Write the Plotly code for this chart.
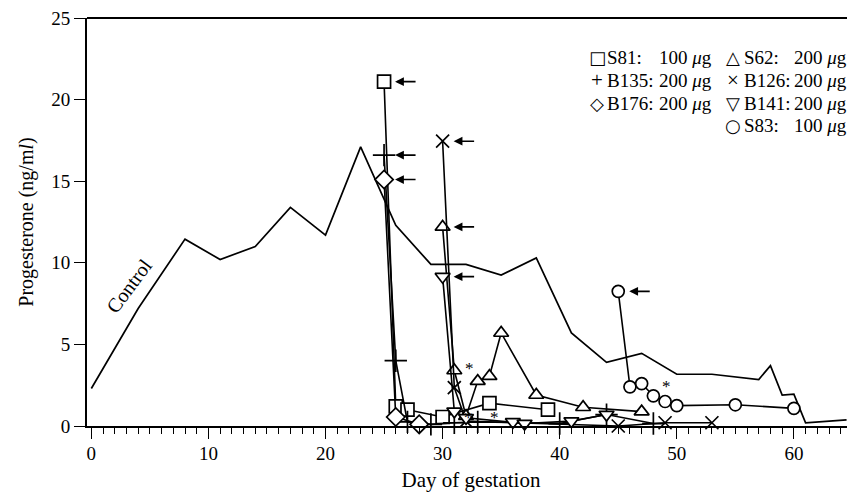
import plotly.graph_objects as go

# ---------------- data ----------------
control_days = [0, 4, 8, 11, 14, 17, 20, 23, 26, 29, 32, 35, 38, 41, 44, 47, 50, 53, 57, 58, 59, 60, 61, 64.5]
control_vals = [2.3, 7.2, 11.45, 10.2, 11.0, 13.4, 11.7, 17.1, 12.3, 9.9, 9.9, 9.25, 10.3, 5.7, 3.9, 4.45, 3.17, 3.17, 2.85, 3.7, 1.9, 1.95, 0.2, 0.37]

s81_days = [25, 26, 27, 30, 34, 39]
s81_vals = [21.1, 1.2, 1.0, 0.55, 1.4, 1.0]

b135_days = [25, 26, 27, 29, 31, 33, 40, 44, 48]
b135_vals = [16.6, 4.0, 0.25, 0.1, 0.2, 0.25, 0.15, 0.7, 0.15]

b176_days = [25, 26, 28]
b176_vals = [15.1, 0.55, 0.1]

s62_days = [30, 31, 32, 33, 34, 35, 38, 42, 47]
s62_vals = [12.2, 3.4, 0.6, 2.75, 3.05, 5.7, 1.9, 1.15, 0.88]

b126_days = [30, 31, 32, 45, 49, 53]
b126_vals = [17.45, 2.35, 0.3, 0.0, 0.2, 0.2]

b141_days = [30, 31, 32, 36, 37, 41, 44]
b141_vals = [9.15, 0.9, 0.5, 0.25, 0.15, 0.3, 0.7]

s83_days = [45, 46, 47, 48, 49, 50, 55, 60]
s83_vals = [8.25, 2.4, 2.6, 1.85, 1.5, 1.25, 1.3, 1.08]

star_days = [32.3, 32.2, 34.4, 49.1]
star_vals = [3.5, 0.5, 0.5, 2.4]

legend_symbols = [["\u25a1", "\u25b3"], ["+", "\u00d7"], ["\u25c7", "\u25bd"], ["", "\u25cb"]]
legend_names = [["S81:", "S62:"], ["B135:", "B126:"], ["B176:", "B141:"], ["", "S83:"]]
legend_doses = [["100 <i>\u03bc</i>g", "200 <i>\u03bc</i>g"],
                ["200 <i>\u03bc</i>g", "200 <i>\u03bc</i>g"],
                ["200 <i>\u03bc</i>g", "200 <i>\u03bc</i>g"],
                ["", "100 <i>\u03bc</i>g"]]

x_ticks = [0, 10, 20, 30, 40, 50, 60]
y_ticks = [0, 5, 10, 15, 20, 25]

FONT = "Liberation Serif"
W, H = 847, 490          # page body has an 8px margin
OFF = 8

fig = go.Figure()

fig.add_trace(go.Scatter(x=control_days, y=control_vals, mode="lines",
                         line=dict(color="black", width=1.7), showlegend=False))

series = [
    (s81_days, s81_vals, "square", 13),
    (b135_days, b135_vals, "cross-thin", 16),
    (b176_days, b176_vals, "diamond", 14),
    (s62_days, s62_vals, "triangle-up", 13),
    (b126_days, b126_vals, "x-thin", 13),
    (b141_days, b141_vals, "triangle-down", 13),
    (s83_days, s83_vals, "circle", 12),
]
for d, v, sym, size in series:
    fig.add_trace(go.Scatter(
        x=d, y=v, mode="lines+markers",
        line=dict(color="black", width=1.6),
        marker=dict(symbol=sym, size=size, color="white",
                    line=dict(color="black", width=1.7)),
        showlegend=False, cliponaxis=False))

annotations = []
for d, v, sym, size in series:
    annotations.append(dict(x=d[0], y=v[0], xref="x", yref="y", text="",
                            showarrow=True, ax=33, ay=0, standoff=11,
                            arrowhead=2, arrowsize=1.1, arrowwidth=1.6,
                            arrowcolor="black"))
for d, v in zip(star_days, star_vals):
    annotations.append(dict(x=d, y=v, xref="x", yref="y", text="*",
                            showarrow=False, font=dict(family=FONT, size=17, color="black")))
annotations.append(dict(x=3.2, y=8.6, xref="x", yref="y", text="Control",
                        showarrow=False, textangle=-53,
                        font=dict(family=FONT, size=20, color="black")))

row_y = [56, 83, 111, 137]
sym_cx = [571, 721]
name_x = [579, 730]
dose_right = [699, 848]
for r in range(4):
    for c in range(2):
        if not legend_names[r][c]:
            continue
        yy = 1 - (row_y[r] - OFF) / H
        sym = legend_symbols[r][c]
        sym_font = "Liberation Serif" if sym in ("+", "\u00d7") else "DejaVu Sans"
        sym_size = 21 if sym in ("+", "\u00d7") else 18
        annotations.append(dict(x=(sym_cx[c] - OFF) / W, y=yy, xref="paper", yref="paper",
                                text=sym, showarrow=False, xanchor="center", yanchor="middle",
                                font=dict(family=sym_font, size=sym_size, color="black")))
        annotations.append(dict(x=(name_x[c] - OFF) / W, y=yy, xref="paper", yref="paper",
                                text=legend_names[r][c], showarrow=False, xanchor="left", yanchor="middle",
                                font=dict(family=FONT, size=19, color="black")))
        annotations.append(dict(x=(dose_right[c] - OFF) / W, y=yy, xref="paper", yref="paper",
                                text=legend_doses[r][c], showarrow=False, xanchor="right", yanchor="middle",
                                font=dict(family=FONT, size=19, color="black")))

fig.update_layout(
    width=W, height=H,
    margin=dict(l=87 - OFF, r=0, t=18 - OFF, b=72, autoexpand=False),
    paper_bgcolor="white", plot_bgcolor="white",
    annotations=annotations,
    xaxis=dict(range=[-0.37, 65.22], tickvals=x_ticks, ticks="outside", ticklen=11,
               tickwidth=1.4, tickcolor="black", showline=True, linecolor="black", linewidth=2,
               showgrid=False, zeroline=False, ticklabelstandoff=-2,
               minor=dict(dtick=1, ticks="outside", ticklen=6, tickcolor="black", tickwidth=1),
               tickfont=dict(family=FONT, size=19, color="black"),
               title=dict(text="Day of gestation", font=dict(family=FONT, size=21, color="black"), standoff=10)),
    yaxis=dict(range=[0, 25], tickvals=y_ticks, ticks="outside", ticklen=11,
               tickwidth=1.4, tickcolor="black", showline=True, linecolor="black", linewidth=2,
               showgrid=False, zeroline=False, ticklabeloverflow="allow",
               tickfont=dict(family=FONT, size=19, color="black"),
               title=dict(text="Progesterone (ng/m<i>l</i>)", font=dict(family=FONT, size=20, color="black"), standoff=12)),
    shapes=[dict(type="line", xref="paper", yref="paper", x0=0, x1=1, y0=1, y1=1,
                 line=dict(color="black", width=2))],
)

fig.write_html("out.html")
